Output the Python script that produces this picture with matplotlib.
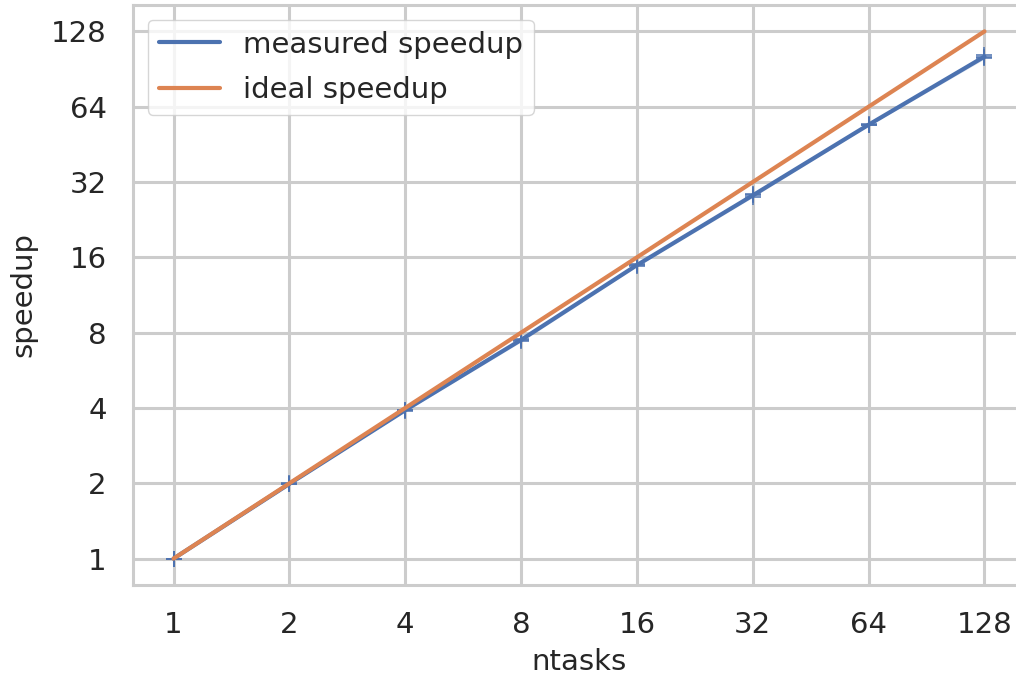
#! /bin/env python3

import matplotlib

matplotlib.use("Agg")
import matplotlib.pyplot as plt
import numpy as np
import pandas as pd
import seaborn as sns

# three runs per task count
ntasks = [1, 1, 1, 2, 2, 2, 4, 4, 4, 8, 8, 8,
          16, 16, 16, 32, 32, 32, 64, 64, 64, 128, 128, 128]
speedup = [1.0, 1.0, 1.0, 1.99, 2.0, 1.98, 3.92, 3.9, 3.94, 7.55, 7.4, 7.5,
           14.8, 14.9, 15.0, 28.0, 28.6, 28.3, 54.0, 54.5, 54.2, 100.0, 103.0, 101.5]
ideal_ntasks = [1, 2, 4, 8, 16, 32, 64, 128]
tick_values = [1, 2, 4, 8, 16, 32, 64, 128]


def main():
    df = pd.DataFrame({"ntasks": ntasks, "speedup": speedup})

    sns.set_theme(style="whitegrid")
    plt.rcParams["font.family"] = ["DejaVu Sans"]
    blue, orange = sns.color_palette()[0], sns.color_palette()[1]

    fig = plt.figure(figsize=(10.16, 6.78), dpi=100)
    # right part of the frame runs past the picture edge, as in the original
    ax = fig.add_axes([0.1309, 0.1372, 0.878, 0.8554])

    sns.lineplot(data=df, x="ntasks", y="speedup", ax=ax, color=blue,
                 linewidth=3, label="measured speedup", errorbar=("ci", 95))
    ax.plot(df["ntasks"], df["speedup"], linestyle="none", marker="+",
            markersize=12, markeredgewidth=1.1, color=blue)
    ax.plot(ideal_ntasks, ideal_ntasks, color=orange, linewidth=3,
            label="ideal speedup")

    ax.set_xscale("log", base=2)
    ax.set_yscale("log", base=2)
    ax.set_xticks(tick_values)
    ax.set_xticklabels([str(v) for v in tick_values])
    ax.set_yticks(tick_values)
    ax.set_yticklabels([str(v) for v in tick_values])
    ax.minorticks_off()

    ax.tick_params(axis="both", labelsize=21, length=0, pad=19, colors=".15")
    ax.set_xlabel("ntasks", fontsize=21, labelpad=6, color=".15")
    ax.set_ylabel("speedup", fontsize=21, labelpad=10, color=".15")
    ax.grid(True, color=".8", linewidth=2.2)
    for s in ax.spines.values():
        s.set_color(".8")
        s.set_linewidth(2.2)

    handles, labels = ax.get_legend_handles_labels()
    ax.legend(handles[:2], labels[:2], loc="upper left", fontsize=21,
              handlelength=2.1, borderpad=0.38, labelspacing=0.6,
              borderaxespad=0.5, framealpha=0.8, edgecolor=".8")

    fig.savefig("out.png", dpi=100)


if __name__ == "__main__":
    main()
